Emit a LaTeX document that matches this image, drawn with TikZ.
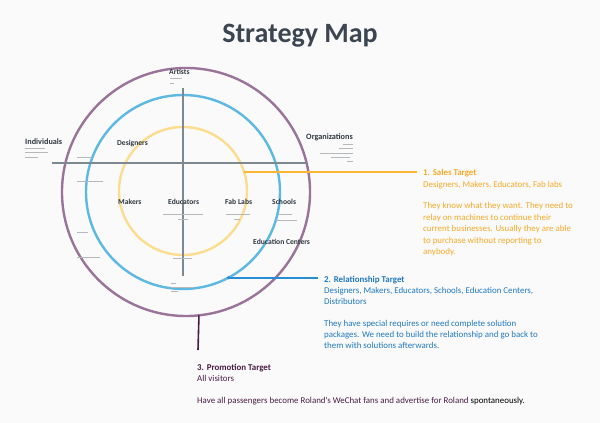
\documentclass[tikz,border=0pt]{standalone}
\usepackage{fontspec}
\usetikzlibrary{calc}
\setmainfont{Carlito}
\definecolor{bgcol}{HTML}{FAFAFA}
\definecolor{titlecol}{HTML}{3B4652}
\definecolor{labelcol}{HTML}{2F3740}
\definecolor{ringpurple}{HTML}{9A7399}
\definecolor{ringblue}{HTML}{5DB9E2}
\definecolor{ringyellow}{HTML}{FCDC8E}
\definecolor{axisgray}{HTML}{7E8891}
\definecolor{salesorange}{HTML}{F6A927}
\definecolor{salesline}{HTML}{F8B634}
\definecolor{relblue}{HTML}{1F78C2}
\definecolor{relline}{RGB}{40,140,215}
\definecolor{promopurple}{HTML}{4A1C46}
\begin{document}
\begin{tikzpicture}[x=1pt,y=-1pt,
  ring/.style={circle,draw,inner sep=0pt,outer sep=0pt,line width=2.4pt},
  axis/.style={draw=axisgray,line width=1.3pt},
  seglabel/.style={font=\bfseries\fontsize{7.6}{9}\selectfont,text=labelcol,inner sep=0pt},
  greek/.style={fill=labelcol!35,draw=none},
  tline/.style={anchor=base west,inner sep=0pt,font=\fontsize{8.9}{10}\selectfont},
  thead/.style={tline,font=\bfseries\fontsize{8.9}{10}\selectfont},
  leader/.style={line width=1.8pt}]
\fill[bgcol] (0,0) rectangle (600,423);
\useasboundingbox (0,0) rectangle (600,423);

% title
\node[font=\bfseries\fontsize{28}{32}\selectfont,text=titlecol,inner sep=0pt,anchor=base] (title) at (300,42) {Strategy Map};

% target rings
\node[ring,draw=ringpurple,minimum size=248pt] (outer) at (186,192) {};
\node[ring,draw=ringblue,minimum size=194pt] (middle) at (183,192) {};
\node[ring,draw=ringyellow,minimum size=128pt] (inner) at (183,191) {};

% axes
\coordinate (axN) at (183,88);
\coordinate (axS) at (183,276);
\coordinate (axW) at (52,163);
\coordinate (axE) at (307,163);
\draw[axis] (axN) -- (axS);
\draw[axis] (axW) -- (axE);

% segment labels
\node[seglabel,anchor=west] (artists) at (169,72) {Artists};
\node[seglabel,anchor=west,font=\bfseries\fontsize{8.2}{9}\selectfont] (individuals) at (25,142) {Individuals};
\node[seglabel,anchor=east,font=\bfseries\fontsize{8.2}{9}\selectfont] (organizations) at (353,137) {Organizations};
\node[seglabel,anchor=west] (designers) at (117,143) {Designers};
\node[seglabel,anchor=west] (makers) at (118,202) {Makers};
\node[seglabel,anchor=west] (educators) at (168,202) {Educators};
\node[seglabel,anchor=west] (fablabs) at (225,202) {Fab Labs};
\node[seglabel,anchor=west] (schools) at (272,202) {Schools};
\node[seglabel,anchor=west] (educenters) at (253,242) {Education Centers};

% fine print under the labels
\foreach \xa/\xb/\yy in {
  170/182/78, 170/174/83,
  25/45/148, 25/48/152, 25/38/157,
  343/353/144, 339/353/148, 320/353/153, 331/350/157, 347/353/161,
  77/92/157, 77/103/181, 77/88/232, 77/100/257,
  163/203/214, 178/188/219,
  226/250/214, 234/240/219,
  278/292/214, 276/297/220,
  173/192/258,
  171/176/283, 171/194/287, 171/178/291}
  \fill[greek] (\xa,\yy-0.45) rectangle (\xb,\yy+0.45);

% 1. sales target
\node[thead,text=salesorange] (sales) at (423,175.3) {1. Sales Target};
\node[tline,text=salesorange] (sales1) at (423,187) {Designers, Makers, Educators, Fab labs};
\node[tline,text=salesorange] (sales2) at (423,208.5) {They know what they want. They need to};
\node[tline,text=salesorange] (sales3) at (423,220) {relay on machines to continue their};
\node[tline,text=salesorange] (sales4) at (423,231.5) {current businesses. Usually they are able};
\node[tline,text=salesorange] (sales5) at (423,243) {to purchase without reporting to};
\node[tline,text=salesorange] (sales6) at (423,254.5) {anybody.};
\draw[leader,draw=salesline,shorten >=6pt] (inner.17.3) -- (inner.17.3 -| sales.west);

% 2. relationship target
\node[thead,text=relblue] (rel) at (324,282.3) {2. Relationship Target};
\node[tline,text=relblue] (rel1) at (324,293.5) {Designers, Makers, Educators, Schools, Education Centers,};
\node[tline,text=relblue] (rel2) at (324,304.5) {Distributors};
\node[tline,text=relblue] (rel3) at (324,326.5) {They have special requires or need complete solution};
\node[tline,text=relblue] (rel4) at (324,337.5) {packages. We need to build the relationship and go back to};
\node[tline,text=relblue] (rel5) at (324,348.5) {them with solutions afterwards.};
\coordinate (relStart) at (middle.-62.6);
\coordinate (relEnd) at ($(relStart -| rel.west)+(-6,0)$);
\draw[leader,draw=relline] (relStart) -- (relEnd);
\fill[fill=relline] (relStart) circle[radius=1.8];

% 3. promotion target
\coordinate (promoEnd) at (198,350);
\draw[line width=1.6pt,draw=promopurple] (outer.-84.5) -- (promoEnd);
\node[thead,text=promopurple] (promo) at (197,370.5) {3. Promotion Target};
\node[tline,text=promopurple] (promo1) at (197,381.5) {All visitors};
\node[tline,text=promopurple] (promo2) at (197,403.5) {Have all passengers become Roland’s WeChat fans and advertise for Roland \textcolor{black}{spontaneously.}};
\end{tikzpicture}
\end{document}
